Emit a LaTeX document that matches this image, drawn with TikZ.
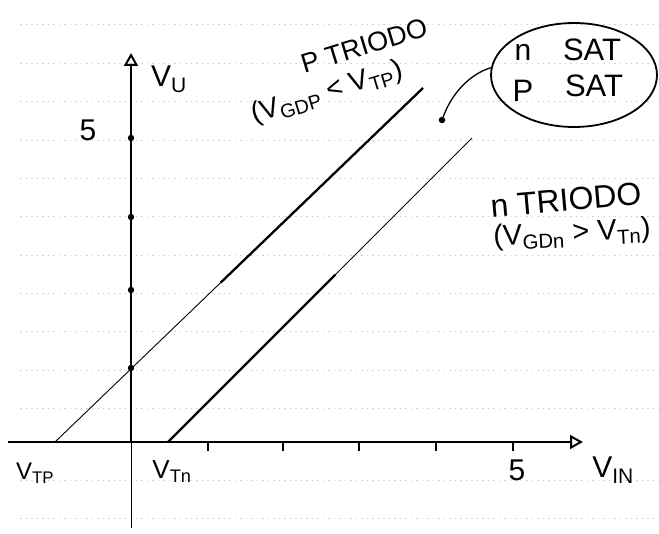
\documentclass[tikz,border=0pt]{standalone}
\usepackage{fontspec}
\setmainfont{Liberation Sans}
\usetikzlibrary{arrows.meta,shapes.geometric,calc}
\newcommand{\fsz}[1]{\fontsize{#1}{#1}\selectfont}
\begin{document}
\begin{tikzpicture}[x=1pt,y=-1pt,
  axis/.style={line width=2.4pt},
  thinline/.style={line width=0.9pt},
  thickline/.style={line width=2.3pt},
  paper/.style={gray!35, line width=0.7pt, dash pattern=on 1.5pt off 4pt},
  lbl/.style={inner sep=0pt, font=\fsz{28}},
  tip/.style={-{Triangle[open,length=13pt,width=14pt,line width=2pt]}}
]
\useasboundingbox (0,0) rectangle (659,534);
% ruled paper
\foreach \y in {24,63,101,140,178,216,255,293,331,370,408,480,518}
  \draw[paper] (20,\y) -- (659,\y);
% axes
\coordinate (O) at (131,442);
\coordinate (xs) at (8,442);
\coordinate (xe) at (583,442);
\coordinate (ys) at (131,528);
\coordinate (ye) at (131,53);
\draw[axis,tip] (xs) -- (xe);
\draw[line width=1pt] (ys) -- (O);
\draw[axis,tip] (O) -- (ye);
\foreach \x in {207.7,283,359,436,512.7}
  \draw[line width=1.8pt] (\x,442) -- (\x,451);
\foreach \y in {138,217,290,368}
  \fill (131,\y) circle (3.2pt);
% characteristic lines
\coordinate (p0) at (55,442);
\coordinate (p1) at (423,88);
\coordinate (n0) at (168,442);
\coordinate (n1) at (472,138);
\draw[thinline] (p0) -- (p1);
\draw[thickline] ($(p0)!0.45!(p1)$) -- (p1);
\draw[thinline] (n0) -- (n1);
\draw[thickline] (n0) -- ($(n0)!0.55!(n1)$);
% saturation region callout
\node[draw, ellipse, line width=1.8pt, minimum width=166pt, minimum height=104pt, inner sep=0pt] (ell) at (574,75) {};
\node[circle, fill, inner sep=0pt, minimum size=6.5pt] (dot) at (442,120) {};
\draw[line width=1.3pt] (dot) .. controls (452,93) and (470,74) .. (ell.175);
\node[lbl,font=\fsz{30}] (nsat1) at (523,52) {n};
\node[lbl,font=\fsz{31}] (sat1) at (592,50) {SAT};
\node[lbl,font=\fsz{31}] (psat1) at (523,91) {P};
\node[lbl,font=\fsz{31}] (sat2) at (594,86) {SAT};
% labels
\node[lbl,font=\fsz{30}] (vu) at (169,79) {V\textsubscript{U}};
\node[lbl,font=\fsz{30}] (five y) at (88,130) {5};
\node[lbl,font=\fsz{27},rotate=17] (ptri) at (364,46) {P TRIODO};
\node[lbl,font=\fsz{28},rotate=17] (pcond) at (327,93) {(V\textsubscript{GDP} < V\textsubscript{TP})};
\node[lbl,font=\fsz{32},rotate=5] (ntri) at (566,200) {n TRIODO};
\node[lbl,font=\fsz{29},rotate=3] (ncond) at (572,234) {(V\textsubscript{GDn} > V\textsubscript{Tn})};
\node[lbl,font=\fsz{24}] (vtp) at (35,473) {V\textsubscript{TP}};
\node[lbl,font=\fsz{26}] (vtn) at (172,472) {V\textsubscript{Tn}};
\node[lbl,font=\fsz{30}] (five x) at (517,470) {5};
\node[lbl,font=\fsz{30}] (vin) at (613,470) {V\textsubscript{IN}};
\end{tikzpicture}
\end{document}
